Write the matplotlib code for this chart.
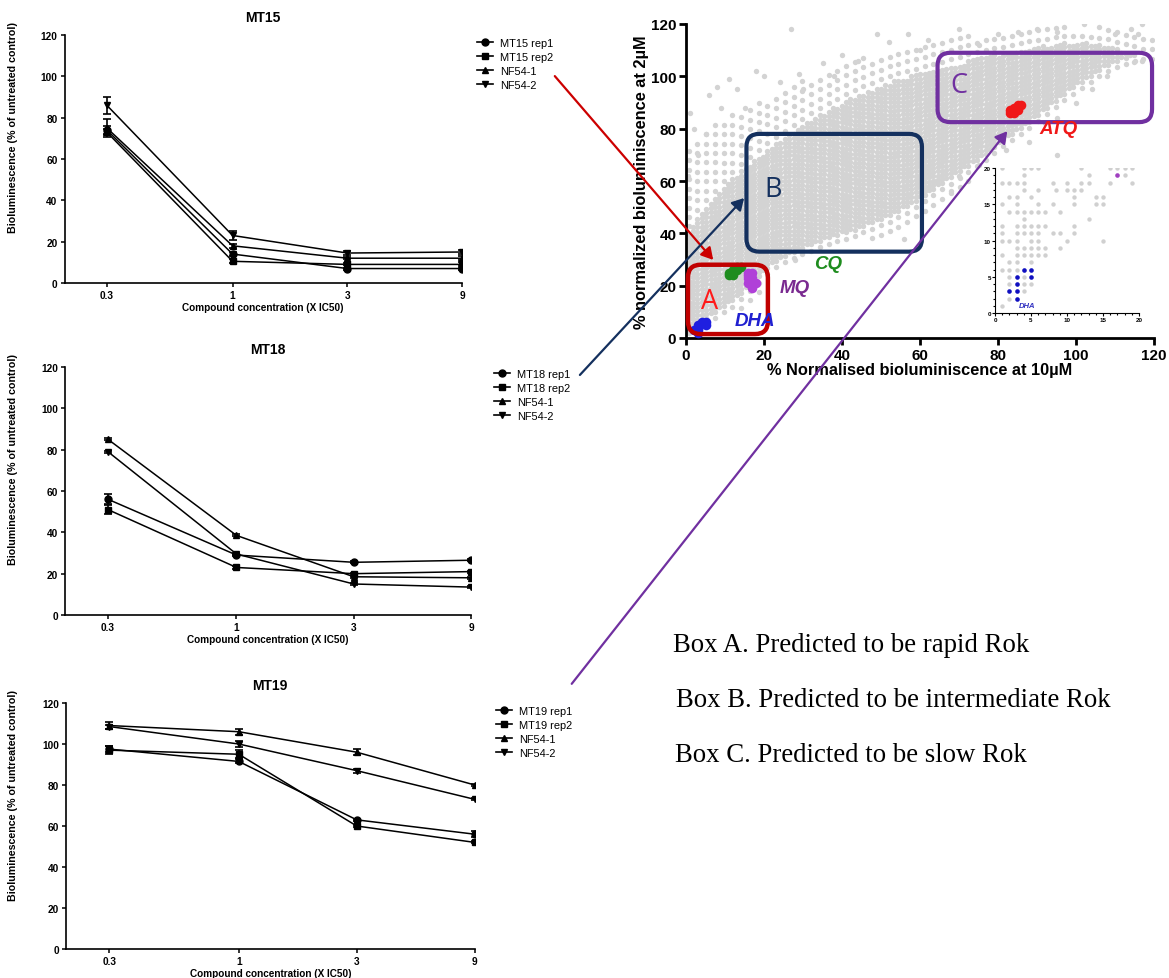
import numpy as np
import matplotlib.pyplot as plt
from matplotlib.patches import FancyBboxPatch, FancyArrowPatch
from matplotlib.lines import Line2D
from matplotlib.ticker import NullLocator, MultipleLocator

plt.rcParams['font.family'] = ['Liberation Sans', 'DejaVu Sans']
plt.rcParams['font.weight'] = 'bold'
plt.rcParams['axes.labelweight'] = 'bold'

# ---------------- data: dose response panels ----------------
conc = [0.3, 1, 3, 9]
conc_labels = ['0.3', '1', '3', '9']

mt15_rep1 = [74, 14, 7, 7]
mt15_rep1_err = [2, 1, 0.5, 0.5]
mt15_rep2 = [73, 10.5, 9, 9]
mt15_rep2_err = [1.5, 1, 0.5, 1]
mt15_nf1 = [75, 18, 12, 12]
mt15_nf1_err = [4.5, 1, 0.5, 1]
mt15_nf2 = [86, 23, 14.5, 15]
mt15_nf2_err = [4, 2, 1, 1]

mt18_rep1 = [56, 29, 25.5, 26.5]
mt18_rep1_err = [2.5, 0.5, 0.5, 0.5]
mt18_rep2 = [51, 23, 20, 21]
mt18_rep2_err = [2, 0.5, 0.5, 0.5]
mt18_nf1 = [85, 38.5, 18.5, 18]
mt18_nf1_err = [0.5, 0.5, 0.5, 0.5]
mt18_nf2 = [79, 29.5, 15, 13.5]
mt18_nf2_err = [0.5, 0.5, 0.5, 0.5]

mt19_rep1 = [97.5, 91.5, 63, 56]
mt19_rep1_err = [1.5, 1, 0.5, 1.5]
mt19_rep2 = [97, 95, 60, 52]
mt19_rep2_err = [2, 2, 0.5, 0.5]
mt19_nf1 = [109, 106, 96, 80]
mt19_nf1_err = [1.5, 1.5, 1.5, 0.5]
mt19_nf2 = [108.5, 100, 87, 73]
mt19_nf2_err = [1, 1.5, 1, 0.5]

# ---------------- data: screening scatter ----------------
# grey cloud outline: dense core and thinner fringe, per x position
cloud_x = [0, 2.5, 7.5, 12.5, 17.5, 22.5, 27.5, 32.5, 37.5, 42.5, 47.5, 52.5, 57.5,
           62.5, 67.5, 72.5, 77.5, 82.5, 87.5, 92.5, 97.5, 102.5, 107.5, 112.5, 117.5]
core_lo = [4, 5, 10, 15, 22, 29, 33, 36, 39, 41, 44, 47, 51,
           56, 61, 66, 71, 77, 82, 88, 94, 99, 104, 107, 109]
core_hi = [38, 46, 54, 62, 68, 74, 79, 84, 88, 92, 95, 98, 100,
           102, 104, 106, 108, 109, 111, 112, 113, 113, 112, 110, 108]
fringe_lo = [0, 1, 4, 9, 15, 25, 29, 32, 34, 36, 38, 41, 45,
             50, 55, 60, 65, 71, 77, 83, 89, 95, 100, 104, 105]
fringe_hi = [70, 76, 82, 86, 90, 93, 97, 100, 103, 106, 108, 110, 112,
             114, 115, 116, 117, 118, 118, 119, 119, 119, 118, 118, 117]
# scattered outliers
out_x = [1, 2, 0.5, 3, 5, 6, 8, 9, 11, 13, 15, 18, 20, 24, 27, 29, 30, 35, 38, 40,
         44, 49, 52, 57, 60, 62, 70, 75, 80, 85, 90, 95, 102, 106, 110, 114, 117, 116,
         64, 68, 70, 75, 82, 88, 92, 95, 100, 104, 108, 115, 117, 95, 56, 24, 28]
out_y = [86, 80, 62, 70, 78, 93, 96, 88, 99, 95, 88, 102, 100, 98, 118, 101, 95, 105, 100, 108,
         106, 116, 113, 116, 110, 114, 118, 112, 116, 117, 118, 117, 120, 119, 116, 118, 120, 116,
         60, 56, 62, 66, 72, 75, 82, 84, 90, 95, 100, 106, 106, 70, 38, 31, 30]

dha_x = [2, 3, 3, 3, 3, 4, 5, 5]
dha_y = [3, 2, 3, 4, 5, 6, 6, 5]
cq_x = [11, 11, 12, 12, 13, 14, 12, 13]
cq_y = [24, 25, 26, 24, 26, 27, 25, 27]
mq_x = [16, 16, 17, 17, 16, 17, 18, 17, 16, 17]
mq_y = [25, 24, 23, 22, 21, 20, 21, 19, 23, 25]
atq_x = [83, 84, 85, 86, 84, 85, 83]
atq_y = [86, 88, 89, 89, 86, 87, 87]

# inset (0-20 zoom): grey points
inset_x = [1, 4, 5, 6, 12, 16, 17, 18, 19,
           4, 13, 18,
           1, 2, 3, 4, 8, 10, 12, 13, 16, 19,
           4, 6, 8.5, 10, 11, 12,
           2, 3, 5, 11, 14, 15,
           1, 3, 6, 8, 11, 14, 15,
           2, 3, 4, 5, 6, 7, 9,
           4, 13,
           1, 3, 4, 5, 6, 7, 11,
           1, 3, 4, 5, 6, 8, 9, 11,
           1, 2, 3, 5, 6, 10, 15,
           3, 4, 5, 6, 7, 9,
           1, 3, 4, 5, 6, 7,
           2, 3, 5,
           1, 2, 3,
           2, 4,
           2, 4, 5,
           4,
           2,
           1]
inset_y = [20] * 9 + [19] * 3 + [18] * 10 + [17] * 6 + [16] * 6 + [15] * 7 + [14] * 7 + \
          [13] * 2 + [12] * 7 + [11] * 8 + [10] * 7 + [9] * 6 + [8] * 6 + [7] * 3 + \
          [6] * 3 + [5] * 2 + [4] * 3 + [3] + [2] + [1]

W, H = 1169, 979
fig = plt.figure(figsize=(W / 100, H / 100), dpi=100)


def rect(l, r, t, b):
    return [l / W, 1 - b / H, (r - l) / W, (b - t) / H]


def line_panel(pos, title, series, leg_xy):
    ax = fig.add_axes(pos)
    markers = ['o', 's', '^', 'v']
    handles = []
    for (lab, vals, err), mk in zip(series, markers):
        ax.errorbar(conc, vals, yerr=err, fmt='-' + mk, color='black', ms=5,
                    lw=1.1, elinewidth=1.2, capsize=3, capthick=1.2)
        handles.append(Line2D([], [], color='black', marker=mk, ms=5, lw=1.2, label=lab))
    ax.set_xscale('log')
    ax.set_xlim(0.2, 9)
    ax.set_ylim(0, 120)
    ax.set_xticks(conc)
    ax.set_xticklabels(conc_labels)
    ax.xaxis.set_minor_locator(NullLocator())
    ax.set_yticks(range(0, 121, 20))
    for s in ['top', 'right']:
        ax.spines[s].set_visible(False)
    for s in ['left', 'bottom']:
        ax.spines[s].set_linewidth(1.2)
    ax.tick_params(direction='out', length=3, width=1.1, labelsize=7.3, pad=2)
    ax.set_title(title, fontsize=10, fontweight='bold', pad=10)
    ax.set_ylabel('Bioluminescence (% of untreated control)', fontsize=7.7)
    ax.yaxis.set_label_coords(-0.116, 0.63)
    ax.set_xlabel('Compound concentration (X IC50)', fontsize=7.2, labelpad=1.5)
    ax.legend(handles=handles, loc='upper left', bbox_to_anchor=(leg_xy[0] / W, 1 - leg_xy[1] / H),
              bbox_transform=fig.transFigure, frameon=False, prop={'size': 7.9, 'weight': 'normal'},
              handlelength=1.45, handletextpad=0.65, labelspacing=0.35, borderaxespad=0, borderpad=0)
    return ax


line_panel(rect(64.5, 462, 36, 284), 'MT15',
           [('MT15 rep1', mt15_rep1, mt15_rep1_err), ('MT15 rep2', mt15_rep2, mt15_rep2_err),
            ('NF54-1', mt15_nf1, mt15_nf1_err), ('NF54-2', mt15_nf2, mt15_nf2_err)], (477, 39))
line_panel(rect(64.7, 471, 368, 616), 'MT18',
           [('MT18 rep1', mt18_rep1, mt18_rep1_err), ('MT18 rep2', mt18_rep2, mt18_rep2_err),
            ('NF54-1', mt18_nf1, mt18_nf1_err), ('NF54-2', mt18_nf2, mt18_nf2_err)], (494, 370))
line_panel(rect(65.9, 474.7, 704, 950), 'MT19',
           [('MT19 rep1', mt19_rep1, mt19_rep1_err), ('MT19 rep2', mt19_rep2, mt19_rep2_err),
            ('NF54-1', mt19_nf1, mt19_nf1_err), ('NF54-2', mt19_nf2, mt19_nf2_err)], (496, 707))

# ---------------- scatter ----------------
sx = fig.add_axes(rect(686, 1154, 25, 339))
gx, gy = [], []
for k, xi in enumerate(np.arange(0.7, 119.5, 1.12)):
    clo = np.interp(xi, cloud_x, core_lo)
    chi = np.interp(xi, cloud_x, core_hi)
    flo = np.interp(xi, cloud_x, fringe_lo)
    fhi = np.interp(xi, cloud_x, fringe_hi)
    off = 0.8 * (k % 2)
    for yi in np.arange(clo + off, chi, 1.6):
        gx.append(xi)
        gy.append(yi)
    if k % 2 == 0:
        for yi in np.arange(chi + 2.4, fhi, 3.6):
            gx.append(xi)
            gy.append(yi)
        for yi in np.arange(clo - 2.4, flo, -3.6):
            gx.append(xi)
            gy.append(yi)
grey = '#d3d3d3'
sx.scatter(gx, gy, s=15, color=grey, linewidths=0, zorder=1)
sx.scatter(out_x, out_y, s=15, color=grey, linewidths=0, zorder=1)
sx.scatter(dha_x, dha_y, s=48, color='#1f1fe0', linewidths=0, zorder=3)
sx.scatter(cq_x, cq_y, s=48, color='#1e8c1e', linewidths=0, zorder=3)
sx.scatter(mq_x, mq_y, s=48, color='#b040d8', linewidths=0, zorder=3)
sx.scatter(atq_x, atq_y, s=48, color='#f01818', linewidths=0, zorder=3)

sx.set_xlim(0, 120)
sx.set_ylim(0, 120)
sx.set_xticks(range(0, 121, 20))
sx.set_yticks(range(0, 121, 20))
for s in ['top', 'right']:
    sx.spines[s].set_visible(False)
for s in ['left', 'bottom']:
    sx.spines[s].set_linewidth(2)
sx.tick_params(direction='out', length=5, width=2, labelsize=11, pad=2)
sx.set_xlabel('% Normalised bioluminiscence at 10µM', fontsize=11.8, labelpad=0)
sx.set_ylabel('% normalized bioluminiscence at 2µM', fontsize=11.8, labelpad=1)

asp = (468 / 120) / (314 / 120)
for (x0, x1, y0, y1, col, lw) in [(0.5, 21, 1.5, 28, '#c00000', 3.2),
                                  (15.5, 60.5, 33, 78, '#14305e', 3.0),
                                  (64.5, 119.5, 82.5, 109, '#7030a0', 3.0)]:
    sx.add_patch(FancyBboxPatch((x0, y0), x1 - x0, y1 - y0,
                                boxstyle='round,pad=0,rounding_size=3.3', mutation_aspect=asp,
                                fill=False, ec=col, lw=lw, zorder=4, clip_on=False))

sx.text(6, 14, 'A', color='#ff1a1a', fontsize=19.5, fontweight='normal', family='Open Sans',
        ha='center', va='center', zorder=5)
sx.text(22.4, 57, 'B', color='#14305e', fontsize=19.5, fontweight='normal', family='Open Sans',
        ha='center', va='center', zorder=5)
sx.text(70, 96.7, 'C', color='#7030a0', fontsize=19.5, fontweight='normal', family='Open Sans',
        ha='center', va='center', zorder=5)
lab_kw = dict(fontsize=13.5, fontweight='bold', style='italic', ha='center', va='center', zorder=5)
sx.text(36.5, 28.3, 'CQ', color='#1e8c1e', **lab_kw)
sx.text(28, 19.4, 'MQ', color='#7a2a90', **lab_kw)
sx.text(17.7, 6.6, 'DHA', color='#2020d0', **lab_kw)
sx.text(95.5, 79.9, 'ATQ', color='#f01818', **lab_kw)

# inset
ix = fig.add_axes(rect(995, 1139, 169, 314))
ix.scatter(inset_x, inset_y, s=10, color='#d0d0d0', linewidths=0)
ix.scatter(dha_x, dha_y, s=11, color='#1010c0', linewidths=0)
ix.scatter([17], [19], s=11, color='#a040c0', linewidths=0)
ix.set_xlim(0, 20)
ix.set_ylim(0, 20)
ix.set_xticks(range(0, 21, 5))
ix.set_yticks(range(0, 21, 5))
ix.xaxis.set_minor_locator(MultipleLocator(1))
ix.yaxis.set_minor_locator(MultipleLocator(1))
for s in ['top', 'right']:
    ix.spines[s].set_visible(False)
ix.tick_params(which='both', direction='out', length=2, width=0.8, labelsize=4.5, pad=1)
ix.tick_params(which='minor', length=1.2)
ix.set_facecolor('none')
ix.text(4.4, 1.1, 'DHA', color='#3030c0', fontsize=5.5, fontweight='bold', style='italic',
        ha='center', va='center')

# arrows linking panels to boxes
for (p0, p1, col) in [((553, 75), (715, 263), '#cc0000'),
                      ((578, 378), (746, 197), '#14305e'),
                      ((570, 687), (1009, 130), '#7030a0')]:
    fig.patches.append(FancyArrowPatch((p0[0] / W, 1 - p0[1] / H), (p1[0] / W, 1 - p1[1] / H),
                                       transform=fig.transFigure,
                                       arrowstyle='-|>,head_length=7,head_width=4',
                                       color=col, lw=1.6, zorder=10))

serif = dict(family='Liberation Serif', fontweight='normal', fontsize=19.3, va='center', ha='left')
fig.text(673 / W, 1 - 646 / H, 'Box A. Predicted to be rapid Rok', **serif)
fig.text(676 / W, 1 - 701 / H, 'Box B. Predicted to be intermediate Rok', **serif)
fig.text(675 / W, 1 - 756 / H, 'Box C. Predicted to be slow Rok', **serif)

fig.savefig('out.png', dpi=100)
